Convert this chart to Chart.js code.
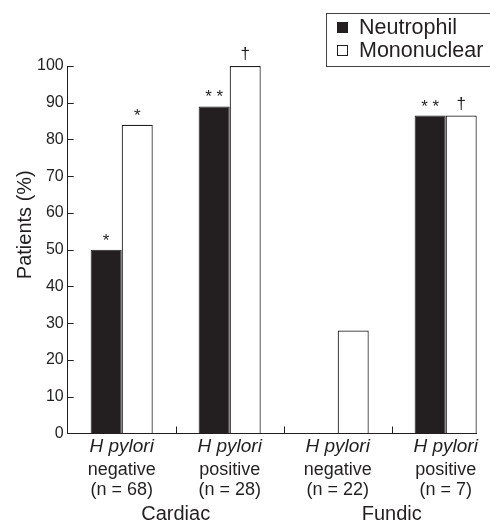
<!DOCTYPE html>
<html>
<head>
<meta charset="utf-8">
<script src="https://cdn.jsdelivr.net/npm/chart.js@4/dist/chart.umd.min.js"></script>
<style>
html, body { margin: 0; padding: 0; background: #fff; overflow: hidden; }
#wrap { width: 490px; height: 529px; }
</style>
</head>
<body>
<div id="wrap"><canvas id="chart"></canvas></div>
<script>
// Neutrophil / mononuclear infiltrate, cardiac and fundic mucosa

var groupPos = [0.5, 1.5, 2.5, 3.5];
var groupEdges = [1, 2, 3];
var pyloriLabels = ['H pylori', 'H pylori', 'H pylori', 'H pylori'];
var statusLabels = [['negative', '(n = 68)'], ['positive', '(n = 28)'], ['negative', '(n = 22)'], ['positive', '(n = 7)']];
var siteLabels = ['Cardiac', 'Fundic'];
var sitePos = [1, 3];

var neutrophil = [50, 89, 0, 86.5];
var mononuclear = [84, 100, 28, 86.5];
var neutrophilMarks = ['*', '* *', '', '* *'];
var mononuclearMarks = ['*', '\u2020', '', '\u2020'];

var ink = '#231f20';
var font = '"Liberation Sans", Arial, sans-serif';
var xMax = 3.79;

function points(vals) {
    return vals.map(function (v, i) { return { x: groupPos[i], y: v }; });
}

function fixedTicks(list) {
    return function (scale) {
        scale.ticks = list.map(function (v) { return { value: v }; });
    };
}

// x axis line (stops at the last bar) and inward tick marks
var innerTicks = {
    id: 'innerTicks',
    afterDraw: function (chart) {
        var ctx = chart.ctx, a = chart.chartArea;
        var x = chart.scales.x, y = chart.scales.y;
        var base = Math.round(y.getPixelForValue(0)) + 0.5;
        ctx.save();
        ctx.strokeStyle = ink;
        ctx.lineWidth = 1;
        ctx.beginPath();
        ctx.moveTo(a.left, base);
        ctx.lineTo(x.getPixelForValue(xMax), base);
        y.ticks.forEach(function (t) {
            var py = Math.round(y.getPixelForValue(t.value)) + 0.5;
            ctx.moveTo(a.left, py);
            ctx.lineTo(a.left + 6, py);
        });
        groupEdges.forEach(function (v) {
            var px = Math.round(x.getPixelForValue(v)) + 0.5;
            ctx.moveTo(px, base);
            ctx.lineTo(px, base - 7);
        });
        ctx.stroke();
        ctx.restore();
    }
};

// significance marks above bars
var marks = {
    id: 'marks',
    afterDatasetsDraw: function (chart) {
        var ctx = chart.ctx;
        ctx.save();
        ctx.fillStyle = ink;
        ctx.font = '17px ' + font;
        ctx.textAlign = 'center';
        ctx.textBaseline = 'alphabetic';
        chart.data.datasets.forEach(function (ds, di) {
            var meta = chart.getDatasetMeta(di);
            meta.data.forEach(function (bar, i) {
                var m = ds.marks[i];
                if (!m) return;
                var off = m === '\u2020' ? 7 : 4;
                ctx.fillText(m, bar.x, bar.y - off);
            });
        });
        ctx.restore();
    }
};

// boxed legend, top right
var boxLegend = {
    id: 'boxLegend',
    afterDraw: function (chart) {
        var ctx = chart.ctx, left = 326, top = 13;
        ctx.save();
        ctx.strokeStyle = '#444';
        ctx.lineWidth = 1;
        ctx.strokeRect(left + 0.5, top + 0.5, chart.width, 53);
        ctx.font = '21.5px ' + font;
        ctx.textBaseline = 'middle';
        chart.data.datasets.forEach(function (ds, i) {
            var cy = top + 14 + i * 23;
            ctx.fillStyle = ds.backgroundColor;
            ctx.fillRect(left + 11, cy - 5, 11, 11);
            ctx.strokeStyle = ink;
            ctx.strokeRect(left + 11.5, cy - 4.5, 10, 10);
            ctx.fillStyle = ink;
            ctx.fillText(ds.label, left + 33, cy + 1);
        });
        ctx.restore();
    }
};

function bottomAxis(list, labels, tickFont, pad) {
    return {
        type: 'linear',
        position: 'bottom',
        offset: false,
        min: 0,
        max: xMax,
        afterBuildTicks: fixedTicks(list),
        grid: { display: false, drawTicks: false, offset: false },
        border: { display: false },
        ticks: {
            maxRotation: 0,
            autoSkip: false,
            padding: pad,
            color: ink,
            font: tickFont,
            callback: function (v) {
                var i = list.indexOf(v);
                return i >= 0 ? labels[i] : '';
            }
        }
    };
}

var ctx = document.getElementById('chart').getContext('2d');
var chart = new Chart(ctx, {
    type: 'bar',
    data: {
        datasets: [{
            label: 'Neutrophil',
            data: points(neutrophil),
            marks: neutrophilMarks,
            backgroundColor: ink,
            borderColor: ink,
            borderWidth: 1,
            xAxisID: 'x'
        }, {
            label: 'Mononuclear',
            data: points(mononuclear),
            marks: mononuclearMarks,
            backgroundColor: '#ffffff',
            borderColor: ink,
            borderWidth: 1.2,
            xAxisID: 'x'
        }]
    },
    options: {
        responsive: true,
        maintainAspectRatio: false,
        animation: false,
        categoryPercentage: 0.575,
        barPercentage: 1.0,
        layout: { padding: { top: 66, left: 13, right: 13, bottom: 0 } },
        plugins: {
            legend: { display: false },
            tooltip: { enabled: false }
        },
        scales: {
            x: bottomAxis(groupPos, pyloriLabels,
                { family: font, size: 19, style: 'italic', lineHeight: 1.2 }, 2),
            x2: bottomAxis(groupPos, statusLabels,
                { family: font, size: 18, lineHeight: 1.1 }, 0),
            x3: bottomAxis(sitePos, siteLabels,
                { family: font, size: 20, lineHeight: 1.0 }, 4.6),
            y: {
                min: 0,
                max: 100,
                grid: { display: false, drawTicks: false },
                border: { display: true, color: ink, width: 1 },
                ticks: {
                    stepSize: 10,
                    padding: 4,
                    color: ink,
                    font: { family: font, size: 16 }
                },
                title: {
                    display: true,
                    text: '         Patients (%)',
                    color: ink,
                    padding: { top: 0, bottom: -4 },
                    font: { family: font, size: 20 }
                }
            }
        }
    },
    plugins: [innerTicks, marks, boxLegend]
});
</script>
</body>
</html>
